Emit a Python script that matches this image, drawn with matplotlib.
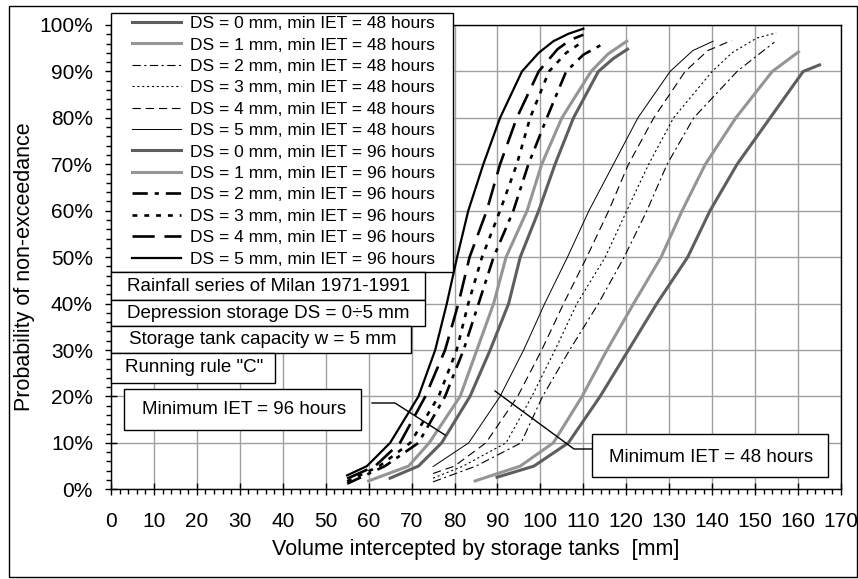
import matplotlib
matplotlib.use('Agg')
import matplotlib.pyplot as plt
from matplotlib.patches import Rectangle
from matplotlib.lines import Line2D
from matplotlib.ticker import MultipleLocator, FuncFormatter

plt.rcParams['font.family'] = ['Liberation Sans', 'DejaVu Sans']
plt.rcParams['lines.scale_dashes'] = False

# curves: volume [mm] vs probability of non-exceedance [%]
# min IET = 48 hours
x48_ds0 = [89.9, 98.5, 106.5, 113.9, 120.5, 127.1, 134.3, 139.5, 145.8, 153.5, 161.2, 165.0]
p48_ds0 = [2.6, 5, 10, 20, 30, 40, 50, 60, 70, 80, 90, 91.4]
x48_ds1 = [84.8, 95.3, 103.0, 109.7, 115.5, 121.7, 128.1, 133.0, 138.4, 145.5, 154.0, 160.1]
p48_ds1 = [1.8, 5, 10, 20, 30, 40, 50, 60, 70, 80, 90, 94.2]
x48_ds2 = [75.0, 85.0, 95.5, 100.5, 106.8, 113.5, 119.5, 124.8, 129.5, 135.7, 145.8, 150.3, 154.5]
p48_ds2 = [1.6, 5, 10, 20, 30, 40, 50, 60, 70, 80, 90, 93.3, 96.3]
x48_ds3 = [75.0, 82.0, 92.0, 98.0, 103.4, 108.5, 115.1, 120.1, 125.2, 131.0, 140.0, 144.6, 150.4, 154.9]
p48_ds3 = [2.4, 5, 10, 20, 30, 40, 50, 60, 70, 80, 90, 94.0, 97.2, 98.3]
x48_ds4 = [75.0, 80.0, 87.3, 94.7, 100.3, 105.4, 110.8, 115.9, 120.5, 126.4, 133.7, 139.0, 144.6]
p48_ds4 = [3.4, 5, 10, 20, 30, 40, 50, 60, 70, 80, 90, 94.5, 96.7]
x48_ds5 = [75.0, 83.3, 90.6, 96.1, 101.0, 106.3, 111.3, 117.0, 122.7, 130.2, 135.5, 140.2]
p48_ds5 = [4.9, 10, 20, 30, 40, 50, 60, 70, 80, 90, 94.5, 96.5]

# min IET = 96 hours
x96_ds0 = [65.0, 71.6, 77.0, 83.6, 88.3, 92.6, 95.3, 99.6, 103.4, 107.7, 113.5, 117.0, 120.3]
p96_ds0 = [2.4, 5, 10, 20, 30, 40, 50, 60, 70, 80, 90, 92.8, 94.8]
x96_ds1 = [60.0, 69.3, 74.1, 81.3, 85.2, 89.1, 92.0, 96.9, 100.3, 105.0, 111.8, 115.8, 120.1]
p96_ds1 = [1.8, 5, 10, 20, 30, 40, 50, 60, 70, 80, 90, 93.8, 96.5]
x96_ds2 = [55.0, 63.8, 71.6, 77.8, 82.1, 85.6, 89.1, 93.7, 97.2, 101.5, 106.0, 110.0, 114.9]
p96_ds2 = [1.2, 5, 10, 20, 30, 40, 50, 60, 70, 80, 90, 93.6, 96.1]
x96_ds3 = [55.0, 62.5, 69.7, 76.3, 80.5, 83.2, 86.4, 90.6, 94.5, 97.6, 102.0, 106.0, 110.0]
p96_ds3 = [1.7, 5, 10, 20, 30, 40, 50, 60, 70, 80, 90, 94.0, 96.5]
x96_ds4 = [55.0, 61.5, 67.3, 73.2, 77.8, 80.9, 83.5, 87.5, 90.6, 94.5, 99.6, 104.0, 107.0, 110.0]
p96_ds4 = [2.3, 5, 10, 20, 30, 40, 50, 60, 70, 80, 90, 94.8, 96.8, 97.9]
x96_ds5 = [55.0, 59.6, 65.0, 71.6, 75.5, 78.2, 80.6, 83.2, 86.7, 90.6, 95.7, 99.6, 103.0, 106.5, 110.0]
p96_ds5 = [3.0, 5, 10, 20, 30, 40, 50, 60, 70, 80, 90, 94.0, 96.5, 98.1, 99.2]

W, H = 858, 579


def fx(px):
    return px / float(W)


def fy(py):
    return 1.0 - py / float(H)


fig = plt.figure(figsize=(W / 100.0, H / 100.0), dpi=100)
ax = fig.add_axes([fx(111), fy(489.3), fx(841) - fx(111), fy(25) - fy(489.3)])

dark = '#5e5e5e'
grey = '#959595'

ax.plot(x48_ds0, p48_ds0, color=dark, lw=2.2, label='DS = 0 mm, min IET = 48 hours')
ax.plot(x48_ds1, p48_ds1, color=grey, lw=2.2, label='DS = 1 mm, min IET = 48 hours')
ax.plot(x48_ds2, p48_ds2, color='black', lw=0.8, ls=(0, (6, 2.5, 1.5, 2.5)), label='DS = 2 mm, min IET = 48 hours')
ax.plot(x48_ds3, p48_ds3, color='black', lw=0.8, ls=(0, (1.5, 2)), label='DS = 3 mm, min IET = 48 hours')
ax.plot(x48_ds4, p48_ds4, color='black', lw=0.8, ls=(0, (6, 3.5)), label='DS = 4 mm, min IET = 48 hours')
ax.plot(x48_ds5, p48_ds5, color='black', lw=0.7, label='DS = 5 mm, min IET = 48 hours')
ax.plot(x96_ds0, p96_ds0, color=dark, lw=2.2, label='DS = 0 mm, min IET = 96 hours')
ax.plot(x96_ds1, p96_ds1, color=grey, lw=2.2, label='DS = 1 mm, min IET = 96 hours')
ax.plot(x96_ds2, p96_ds2, color='black', lw=1.9, ls=(0, (11, 5, 3, 5)), label='DS = 2 mm, min IET = 96 hours')
ax.plot(x96_ds3, p96_ds3, color='black', lw=1.9, ls=(0, (3.5, 5)), label='DS = 3 mm, min IET = 96 hours')
ax.plot(x96_ds4, p96_ds4, color='black', lw=1.9, ls=(0, (16, 7)), label='DS = 4 mm, min IET = 96 hours')
ax.plot(x96_ds5, p96_ds5, color='black', lw=1.6, label='DS = 5 mm, min IET = 96 hours')

ax.set_xlim(0, 170)
ax.set_ylim(0, 100)
ax.xaxis.set_major_locator(MultipleLocator(10))
ax.xaxis.set_minor_locator(MultipleLocator(2))
ax.yaxis.set_major_locator(MultipleLocator(10))
ax.yaxis.set_minor_locator(MultipleLocator(2))
ax.yaxis.set_major_formatter(FuncFormatter(lambda v, pos: '%d%%' % v))
ax.grid(True, which='major', color='#a0a0a0', lw=1.0)
ax.set_axisbelow(True)
for s in ax.spines.values():
    s.set_color('black')
    s.set_linewidth(1.0)
ax.tick_params(which='major', direction='inout', length=8, width=1, labelsize=15)
ax.tick_params(which='minor', direction='out', length=3.5, width=1)
ax.tick_params(axis='x', which='major', pad=12)
ax.tick_params(axis='y', which='major', pad=9)

ax.set_xlabel('Volume intercepted by storage tanks  [mm]', fontsize=15.5)
ax.set_ylabel('Probability of non-exceedance', fontsize=15.5)
ax.xaxis.set_label_coords(0.5, -0.108)
ax.yaxis.set_label_coords(-0.1045, 0.48)

# outer frame
fig.add_artist(Rectangle((fx(9), fy(577)), fx(857) - fx(9), fy(6) - fy(577), transform=fig.transFigure,
                         facecolor='none', edgecolor='black', lw=1.0, zorder=0))

# legend with its own frame
fig.add_artist(Rectangle((fx(111), fy(272)), fx(453) - fx(111), fy(13) - fy(272), transform=fig.transFigure,
                         facecolor='white', edgecolor='black', lw=1.0, zorder=3))
handles, labels = ax.get_legend_handles_labels()
leg = fig.legend(handles, labels, loc='upper left', bbox_to_anchor=(fx(132), fy(16)), frameon=False,
                 fontsize=12.5, borderpad=0, borderaxespad=0, handlelength=2.85, handletextpad=0.5,
                 labelspacing=0.36)
leg.set_zorder(4)


def textbox(x0, y0, x1, y1, s, cx, cy):
    fig.add_artist(Rectangle((fx(x0), fy(y1)), fx(x1) - fx(x0), fy(y0) - fy(y1), transform=fig.transFigure,
                             facecolor='white', edgecolor='black', lw=1.0, zorder=5))
    fig.text(fx(cx), fy(cy), s, ha='center', va='center', fontsize=13.5, zorder=6)


textbox(111, 272, 425, 300, 'Rainfall series of Milan 1971-1991', 269, 286)
textbox(111, 300, 425, 326, 'Depression storage DS = 0\u00f75 mm', 268.5, 313)
textbox(111, 326, 411, 353, 'Storage tank capacity w = 5 mm', 263, 339.5)
textbox(111, 353, 275, 383, 'Running rule "C"', 194, 368)
textbox(124, 389, 361, 430, 'Minimum IET = 96 hours', 244, 409)
textbox(592, 434, 828, 477, 'Minimum IET = 48 hours', 711, 458)

# leader lines
fig.add_artist(Line2D([fx(372), fx(395), fx(445)], [fy(403), fy(403), fy(435)],
                      transform=fig.transFigure, color='black', lw=1.0, zorder=5))
fig.add_artist(Line2D([fx(592), fx(574), fx(495)], [fy(449), fy(449), fy(391)],
                      transform=fig.transFigure, color='black', lw=1.0, zorder=5))

fig.savefig('out.png', dpi=100)
